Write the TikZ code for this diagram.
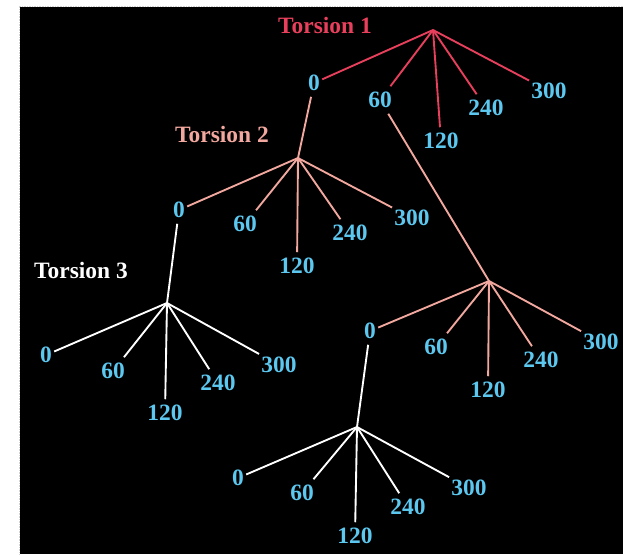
\documentclass[tikz,border=0pt]{standalone}
\usepackage{fontspec}
\setmainfont{Liberation Serif}
\usepackage{tikz}
\usepackage{tkz-graph}
\definecolor{torred}{RGB}{232,64,92}
\definecolor{torpink}{RGB}{242,168,158}
\definecolor{torcyan}{RGB}{92,200,240}
\newcommand{\torfont}{\fontsize{20}{23}\selectfont\bfseries}
\begin{document}
\begin{tikzpicture}[x=0.03cm,y=-0.03cm]

  \useasboundingbox (0,0) rectangle (623,554);
  \fill[white] (0,0) rectangle (623,554);
  \fill[black] (20,7) rectangle (623,554);
  \draw[gray!35,densely dotted] (19,554) -- (19,6) -- (623,6);

\tikzstyle{VertexStyle}=[inner xsep=2pt,inner ysep=5pt,text=torcyan,font=\torfont]

  \node[font=\torfont,text=torred]  (tor1) at (325,25)  {Torsion 1};
  \node[font=\torfont,text=torpink] (tor2) at (222,134) {Torsion 2};
  \node[font=\torfont,text=white]   (tor3) at (81,270)  {Torsion 3};

  \coordinate (r1) at (433,30);
  \Vertex[x=314,y=83,L={0}]{a0}
  \Vertex[x=380,y=100,L={60}]{a60}
  \Vertex[x=441,y=141,L={120}]{a120}
  \Vertex[x=486,y=108,L={240}]{a240}
  \Vertex[x=549,y=91,L={300}]{a300}

  \coordinate (r2) at (298,158);
  \Vertex[x=179,y=210,L={0}]{b0}
  \Vertex[x=245,y=224,L={60}]{b60}
  \Vertex[x=297,y=266,L={120}]{b120}
  \Vertex[x=350,y=233,L={240}]{b240}
  \Vertex[x=412,y=218,L={300}]{b300}

  \coordinate (s2) at (489,281);
  \Vertex[x=370,y=331,L={0}]{c0}
  \Vertex[x=436,y=347,L={60}]{c60}
  \Vertex[x=488,y=390,L={120}]{c120}
  \Vertex[x=541,y=360,L={240}]{c240}
  \Vertex[x=601,y=342,L={300}]{c300}

  \coordinate (r3) at (167,303);
  \Vertex[x=46,y=355,L={0}]{d0}
  \Vertex[x=113,y=371,L={60}]{d60}
  \Vertex[x=165,y=413,L={120}]{d120}
  \Vertex[x=218,y=383,L={240}]{d240}
  \Vertex[x=279,y=365,L={300}]{d300}

  \coordinate (s3) at (357,427);
  \Vertex[x=238,y=478,L={0}]{e0}
  \Vertex[x=302,y=493,L={60}]{e60}
  \Vertex[x=355,y=536,L={120}]{e120}
  \Vertex[x=408,y=507,L={240}]{e240}
  \Vertex[x=469,y=488,L={300}]{e300}

\tikzstyle{EdgeStyle}=[draw=torred,line width=1.6pt]
\Edge(r1)(a0)
\Edge(r1)(a60)
\Edge(r1)(a120)
\Edge(r1)(a240)
\Edge(r1)(a300)

\tikzstyle{EdgeStyle}=[draw=torpink,line width=1.6pt]
\Edge(a0)(r2)
\Edge(r2)(b0)
\Edge(r2)(b60)
\Edge(r2)(b120)
\Edge(r2)(b240)
\Edge(r2)(b300)
\Edge(a60)(s2)
\Edge(s2)(c0)
\Edge(s2)(c60)
\Edge(s2)(c120)
\Edge(s2)(c240)
\Edge(s2)(c300)

\tikzstyle{EdgeStyle}=[draw=white,line width=1.6pt]
\Edge(b0)(r3)
\Edge(r3)(d0)
\Edge(r3)(d60)
\Edge(r3)(d120)
\Edge(r3)(d240)
\Edge(r3)(d300)
\Edge(c0)(s3)
\Edge(s3)(e0)
\Edge(s3)(e60)
\Edge(s3)(e120)
\Edge(s3)(e240)
\Edge(s3)(e300)
\end{tikzpicture}
\end{document}
